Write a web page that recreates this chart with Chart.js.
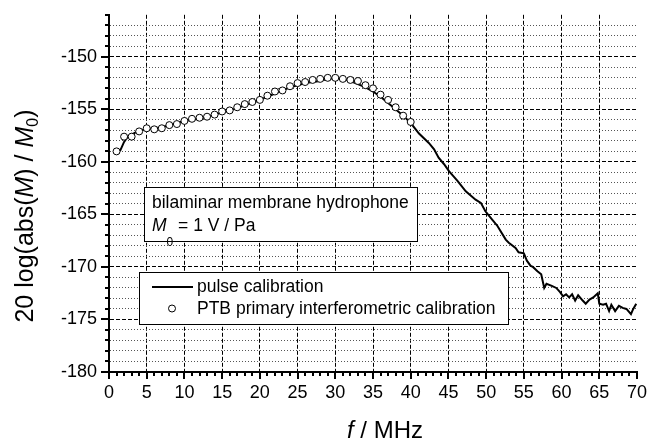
<!DOCTYPE html>
<html>
<head>
<meta charset="utf-8">
<script src="https://cdn.jsdelivr.net/npm/chart.js@4.4.0/dist/chart.umd.min.js"></script>
<style>
  html, body { margin: 0; padding: 0; background: #fff; }
</style>
</head>
<body>
<canvas id="graficoHidrofono" width="660" height="441"></canvas>
<script>
// Datos
const freqPulse = [1, 1.5, 2, 2.5, 3, 4, 5, 6, 7, 8, 9, 10, 11, 12, 13, 14, 15, 16, 17, 18, 19, 20,
  21, 22, 23, 24, 25, 26, 27, 28, 29, 30, 31, 32, 33, 34, 35, 36, 37, 38, 39, 40,
  41.1, 42.4, 43.1, 43.7, 44.4, 45.1, 46.2, 47.3, 48.6, 49.3, 49.9, 50.8, 51.5, 52.6, 53.0,
  53.9, 54.3, 55.0, 55.4, 55.9, 56.2, 56.8, 57.3, 57.7, 58.0, 58.7, 59.3, 59.8, 60.2, 60.6,
  61.0, 61.4, 61.8, 62.2, 62.8, 63.2, 63.7, 64.2, 64.8, 65.0, 65.5, 65.9, 66.3, 66.6, 67.1,
  67.6, 68.1, 68.6, 69.2, 69.5, 69.9];
const levelPulse = [-159.1, -158.9, -158.1, -157.6, -157.4, -157.0, -156.9, -156.8, -156.7, -156.5,
  -156.3, -156.1, -156.0, -155.9, -155.7, -155.5, -155.3, -155.1, -154.9, -154.6, -154.4, -154.1,
  -153.8, -153.5, -153.2, -152.9, -152.7, -152.5, -152.4, -152.3, -152.1, -152.0, -152.1, -152.3,
  -152.6, -152.9, -153.3, -153.8, -154.4, -155.0, -155.6, -156.3,
  -157.3, -158.2, -158.8, -159.6, -160.2, -160.9, -161.8, -162.8, -163.6, -163.9, -164.7, -165.5,
  -166.1, -167.4, -167.7, -168.2, -168.6, -168.7, -169.4, -169.9, -170.0, -170.4, -170.7, -172.0,
  -171.6, -171.8, -172.0, -172.4, -172.8, -172.6, -172.9, -172.6, -173.2, -172.7, -173.2, -173.5,
  -173.1, -172.9, -172.5, -173.5, -173.6, -173.5, -174.2, -173.6, -174.2, -173.7, -173.9, -174.0,
  -174.5, -174.0, -173.5];

const freqPtb = [1, 2, 3, 4, 5, 6, 7, 8, 9, 10, 11, 12, 13, 14, 15, 16, 17, 18, 19, 20,
  21, 22, 23, 24, 25, 26, 27, 28, 29, 30, 31, 32, 33, 34, 35, 36, 37, 38, 39, 40];
const levelPtb = [-159.0, -157.6, -157.6, -157.1, -156.8, -156.9, -156.8, -156.5, -156.4, -156.1,
  -155.9, -155.8, -155.7, -155.5, -155.2, -155.1, -154.8, -154.5, -154.3, -154.1,
  -153.7, -153.3, -153.2, -152.8, -152.5, -152.4, -152.2, -152.1, -152.0, -152.0,
  -152.1, -152.2, -152.3, -152.7, -153.0, -153.6, -154.1, -154.8, -155.6, -156.2];

const xLabels = [0, 5, 10, 15, 20, 25, 30, 35, 40, 45, 50, 55, 60, 65, 70];
const yLabels = [-180, -175, -170, -165, -160, -155, -150];
const xMin = 0, xMax = 70, yMin = -180, yMax = -146;

const FUENTE = '"Liberation Sans", Arial, sans-serif';

// Líneas de rejilla: discontinuas en cada 5, punteadas en cada unidad
function colorRejillaX(ctx) {
  const v = ctx.tick ? ctx.tick.value : null;
  if (v === null || v === xMin || v === xMax) return 'rgba(0,0,0,0)';
  return xLabels.includes(v) ? '#000' : 'rgba(0,0,0,0)';
}
function colorRejillaY(ctx) {
  const v = ctx.tick ? ctx.tick.value : null;
  if (v === null || v === yMin || v === yMax) return 'rgba(0,0,0,0)';
  return yLabels.includes(v) ? '#000' : '#555';
}

// Plugin para marcas de eje, leyenda, recuadro de texto y títulos
const dibujoExtra = {
  id: 'dibujoExtra',
  afterDraw(chart) {
    const ctx = chart.ctx;
    const xs = chart.scales.x, ys = chart.scales.y;
    const area = chart.chartArea;
    ctx.save();
    ctx.strokeStyle = '#000';
    ctx.lineWidth = 2;

    // marcas del eje x (hacia fuera)
    xs.ticks.forEach(t => {
      const px = Math.round(xs.getPixelForValue(t.value));
      const len = xLabels.includes(t.value) ? 7 : 4;
      ctx.beginPath();
      ctx.moveTo(px, area.bottom);
      ctx.lineTo(px, area.bottom + len);
      ctx.stroke();
    });
    // marcas del eje y (hacia fuera)
    ys.ticks.forEach(t => {
      const py = Math.round(ys.getPixelForValue(t.value));
      const len = yLabels.includes(t.value) ? 8 : 4;
      ctx.beginPath();
      ctx.moveTo(area.left, py);
      ctx.lineTo(area.left - len, py);
      ctx.stroke();
    });

    ctx.fillStyle = '#000';
    ctx.textBaseline = 'alphabetic';

    // recuadro con texto
    ctx.lineWidth = 1;
    ctx.fillStyle = '#fff';
    ctx.fillRect(144.5, 187.5, 273, 54);
    ctx.strokeRect(144.5, 187.5, 273, 54);
    ctx.fillStyle = '#000';
    ctx.font = '17.5px ' + FUENTE;
    ctx.textAlign = 'left';
    ctx.fillText('bilaminar membrane hydrophone', 152, 208);
    ctx.font = 'italic 17.5px ' + FUENTE;
    ctx.fillText('M', 152, 231);
    let w = ctx.measureText('M').width;
    ctx.font = '12px ' + FUENTE;
    ctx.fillText('0', 152 + w, 246);
    let w0 = ctx.measureText('0').width;
    ctx.font = '17.5px ' + FUENTE;
    ctx.fillText(' = 1 V / Pa', 152 + w + w0, 231);

    // leyenda
    const ds = chart.data.datasets;
    ctx.fillStyle = '#fff';
    ctx.fillRect(139.5, 272.5, 369, 52);
    ctx.strokeRect(139.5, 272.5, 369, 52);
    ctx.lineWidth = 2;
    ctx.beginPath();
    ctx.moveTo(152, 287);
    ctx.lineTo(193, 287);
    ctx.stroke();
    ctx.lineWidth = 1;
    ctx.fillStyle = '#fff';
    ctx.beginPath();
    ctx.arc(172, 308.5, 3.5, 0, Math.PI * 2);
    ctx.fill();
    ctx.stroke();
    ctx.fillStyle = '#000';
    ctx.font = '17.5px ' + FUENTE;
    ctx.textBaseline = 'middle';
    ctx.fillText(ds[1].label, 197, 287);
    ctx.fillText(ds[0].label, 197, 309);

    // título eje x
    ctx.textBaseline = 'alphabetic';
    ctx.font = 'italic 24px ' + FUENTE;
    const partF = 'f';
    const restoX = ' / MHz';
    const wf = ctx.measureText(partF).width;
    ctx.font = '24px ' + FUENTE;
    const wr = ctx.measureText(restoX).width;
    const cx = 385;
    let x0 = cx - (wf + wr) / 2;
    ctx.font = 'italic 24px ' + FUENTE;
    ctx.fillText(partF, x0, 438);
    ctx.font = '24px ' + FUENTE;
    ctx.fillText(restoX, x0 + wf, 438);

    // título eje y (rotado)
    const trozos = [
      { t: '20 log(abs(', f: '25px ', dy: 0 },
      { t: 'M', f: 'italic 25px ', dy: 0 },
      { t: ') / ', f: '25px ', dy: 0 },
      { t: 'M', f: 'italic 25px ', dy: 0 },
      { t: '0', f: '16px ', dy: 5 },
      { t: ')', f: '25px ', dy: 0 }
    ];
    let total = 0;
    trozos.forEach(p => { ctx.font = p.f + FUENTE; total += ctx.measureText(p.t).width; });
    ctx.translate(33, 216);
    ctx.rotate(-Math.PI / 2);
    let pos = -total / 2;
    trozos.forEach(p => {
      ctx.font = p.f + FUENTE;
      ctx.fillText(p.t, pos, p.dy);
      pos += ctx.measureText(p.t).width;
    });
    ctx.restore();
  }
};

new Chart(document.getElementById('graficoHidrofono'), {
  type: 'line',
  data: {
    datasets: [
      {
        label: 'PTB primary interferometric calibration',
        data: freqPtb.map((f, i) => ({ x: f, y: levelPtb[i] })),
        showLine: false,
        pointStyle: 'circle',
        pointRadius: 3.5,
        pointBorderWidth: 1,
        pointBorderColor: '#000',
        pointBackgroundColor: '#fff',
        order: 0
      },
      {
        label: 'pulse calibration',
        data: freqPulse.map((f, i) => ({ x: f, y: levelPulse[i] })),
        borderColor: '#000',
        borderWidth: 2,
        pointRadius: 0,
        tension: 0,
        fill: false,
        order: 1
      }
    ]
  },
  options: {
    responsive: false,
    animation: false,
    devicePixelRatio: 1,
    layout: { padding: { left: 0, right: 23, top: 13, bottom: 0 } },
    plugins: {
      legend: { display: false },
      tooltip: { enabled: false }
    },
    scales: {
      x: {
        type: 'linear',
        min: xMin,
        max: xMax,
        ticks: {
          stepSize: 1,
          autoSkip: false,
          maxRotation: 0,
          padding: 3,
          color: '#000',
          font: { family: FUENTE, size: 18 },
          callback: v => xLabels.includes(v) ? String(v) : ''
        },
        grid: {
          color: colorRejillaX,
          lineWidth: 1,
          tickLength: 7,
          tickColor: 'rgba(0,0,0,0)'
        },
        border: {
          display: true,
          color: '#000',
          width: 2,
          dash: ctx => (ctx.tick ? [4, 2] : [])
        },
        afterFit: s => { s.height = 69; }
      },
      y: {
        type: 'linear',
        min: yMin,
        max: yMax,
        ticks: {
          stepSize: 1,
          autoSkip: false,
          maxTicksLimit: 100,
          padding: 4,
          color: '#000',
          font: { family: FUENTE, size: 18 },
          callback: v => yLabels.includes(v) ? String(v) : ''
        },
        grid: {
          color: colorRejillaY,
          lineWidth: 1,
          tickLength: 8,
          tickColor: 'rgba(0,0,0,0)'
        },
        border: {
          display: true,
          color: '#000',
          width: 2,
          dash: ctx => (ctx.tick ? (yLabels.includes(ctx.tick.value) ? [4, 2] : [1, 2]) : [])
        },
        afterFit: s => { s.width = 109; }
      }
    }
  },
  plugins: [dibujoExtra]
});
</script>
</body>
</html>
